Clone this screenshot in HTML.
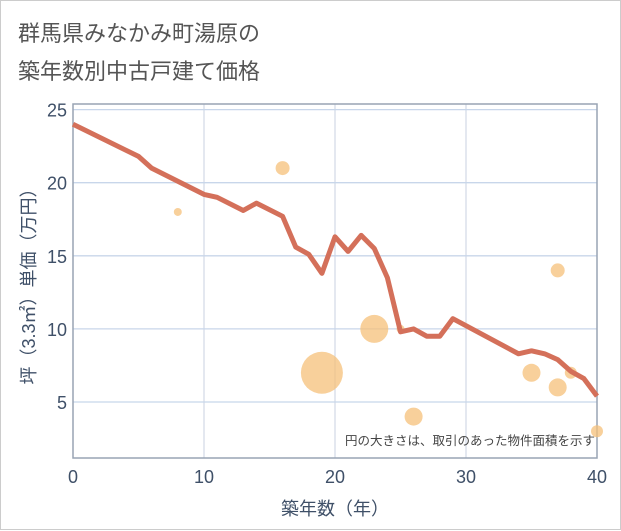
<!DOCTYPE html>
<html><head><meta charset="utf-8">
<style>
body{margin:0;background:#fff;}
#wrap{position:relative;width:619px;height:528px;border:1px solid #ccc;background:#fff;font-family:"Liberation Sans","Noto Sans CJK JP",sans-serif;}
#title{position:absolute;left:17px;top:14px;font-size:22px;line-height:38px;color:#555;}
svg{position:absolute;left:0;top:0;}
</style></head><body>
<div id="wrap">
<div id="title">群馬県みなかみ町湯原の<br>築年数別中古戸建て価格</div>
<svg id="chart" width="621" height="530"></svg>
</div>
<script>
const lineX=[0,5,6,10,11,13,14,16,17,18,19,20,21,22,23,24,25,26,27,28,29,34,35,36,37,38,39,40];
const lineY=[24,21.8,21,19.2,19,18.1,18.6,17.7,15.6,15.1,13.8,16.3,15.3,16.4,15.5,13.5,9.8,10,9.5,9.5,10.7,8.3,8.5,8.3,7.9,7.1,6.6,5.4];
const bubX=[8,16,19,23,25,26,35,37,37,38,40];
const bubY=[18,21,7,10,10,4,7,14,6,7,3];
const bubR=[4,7,21,14,4,9,9,7,9,6,6];
const xTicks=[0,10,20,30,40];
const yTicks=[5,10,15,20,25];
const NS="http://www.w3.org/2000/svg";
const svg=document.getElementById('chart');
const L=72,R=596,T=103,B=457;
const xs=v=>L+(v/40)*(R-L);
const ys=v=>401-(v-5)*14.62;
function mk(t,a){const e=document.createElementNS(NS,t);for(const k in a)e.setAttribute(k,a[k]);svg.appendChild(e);return e;}
xTicks.forEach(t=>{
 const g=mk('line',{x1:xs(t),x2:xs(t),y1:T,y2:B,stroke:'#c8d2e0','stroke-width':1});
 
 
 const tx=mk('text',{x:xs(t),y:482,'text-anchor':'middle','font-size':18,fill:'#3f5068'});
 tx.textContent=t;
 
 
});
yTicks.forEach(t=>{
 const g=mk('line',{x1:L,x2:R,y1:ys(t),y2:ys(t),stroke:'#c8d6ea','stroke-width':1.3});
 
 
 const tx=mk('text',{x:66,y:ys(t)+7,'text-anchor':'end','font-size':18,fill:'#3f5068'});
 tx.textContent=t;
 
 
});
const fr=mk('rect',{x:L,y:T,width:R-L,height:B-T,fill:'none',stroke:'#98a4b4','stroke-width':1.5});


bubX.forEach((v,i)=>{
 const c=mk('circle',{cx:xs(v),cy:ys(bubY[i]),r:bubR[i],fill:'#f5c07a','fill-opacity':0.75});
 
 
});
const p=mk('polyline',{points:lineX.map((v,i)=>xs(v)+','+ys(lineY[i])).join(' '),fill:'none',stroke:'#d4705a','stroke-width':5,'stroke-linejoin':'round'});


const note=mk('text',{x:594,y:444,'text-anchor':'end','font-size':12.5,fill:'#444'});
note.textContent='円の大きさは、取引のあった物件面積を示す';


const xt=mk('text',{x:334,y:514,'text-anchor':'middle','font-size':18,fill:'#3f5068'});
xt.textContent='築年数（年）';


const yt=mk('text',{x:0,y:0,'text-anchor':'middle','font-size':18,fill:'#3f5068',transform:'translate(34,281) rotate(-90)'});
yt.textContent='坪（3.3㎡）単価（万円）';


</script>
</body></html>
